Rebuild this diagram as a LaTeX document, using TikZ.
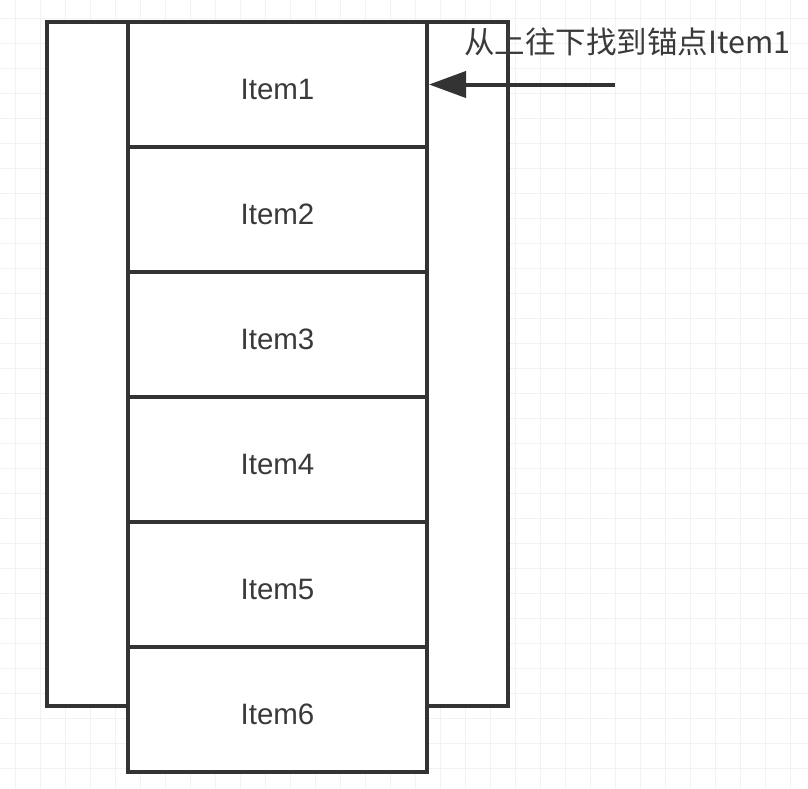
\documentclass[tikz,border=0pt]{standalone}
\usepackage{fontspec}
\setmainfont{Liberation Sans}
\newfontfamily\cjk{Noto Sans CJK SC}
\usetikzlibrary{arrows.meta}
\definecolor{ink}{HTML}{333333}
\definecolor{gridc}{HTML}{F2F2F2}
\definecolor{txt}{HTML}{3A3A3A}
\tikzset{
  itembox/.style={draw=ink, line width=4pt, fill=white, minimum width=299pt, minimum height=125pt, inner sep=0pt, text=txt},
  itemtext/.style={font=\fontsize{29.5}{31}\selectfont, text=txt, inner sep=0pt},
  frame/.style={draw=ink, line width=4pt, fill=white},
  pointer/.style={draw=ink, line width=4pt, -{Triangle[length=37pt,width=26pt]}},
}
\begin{document}
\begin{tikzpicture}[x=1pt,y=-1pt]
\useasboundingbox (0,0) rectangle (808,788);
\fill[white] (0,0) rectangle (808,788);
% grid
\foreach \gx in {15,40,...,808} \draw[gridc, line width=0.8pt] (\gx,0) -- (\gx,788);
\foreach \gy in {18,43,...,788} \draw[gridc, line width=0.8pt] (0,\gy) -- (808,\gy);
% outer frame
\draw[frame] (47,22) rectangle (508,706);
% items
\node[itembox] (i1) at (277.5,84.5) {};
\node[itembox] (i2) at (277.5,209.5) {};
\node[itembox] (i3) at (277.5,334.5) {};
\node[itembox] (i4) at (277.5,459.5) {};
\node[itembox] (i5) at (277.5,584.5) {};
\node[itembox] (i6) at (277.5,709.5) {};
\foreach \n/\t in {i1/Item1,i2/Item2,i3/Item3,i4/Item4,i5/Item5,i6/Item6}
  \node[itemtext, anchor=base] at ([yshift=-15pt]\n.center) {\t};
% arrow
\coordinate (src) at (615,84.5);
\draw[pointer] (src) -- (i1.east);
\node[anchor=base west, inner sep=0pt, font=\cjk\fontsize{30.5}{32}\selectfont, text=txt] (lbl) at (464,53) {从上往下找到锚点Item1};
\end{tikzpicture}
\end{document}
